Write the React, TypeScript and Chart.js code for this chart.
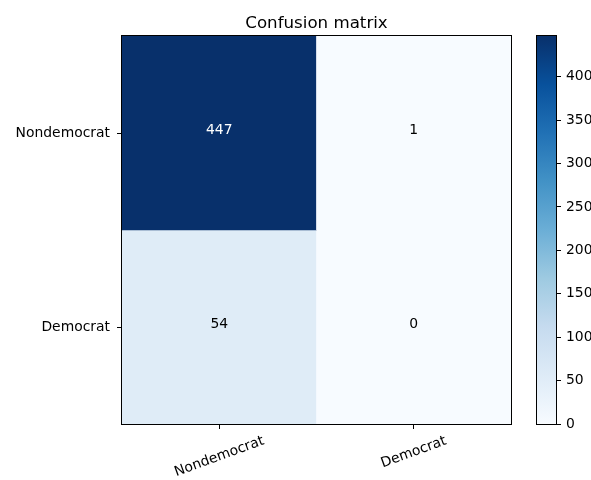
import React, { useEffect, useRef } from "react";
import { Chart, registerables } from "chart.js";

Chart.register(...registerables);

// Confusion matrix data: rows are the true class, columns the predicted class.
const title = "Confusion matrix";
const predictedLabels = ["Nondemocrat", "Democrat"];
const trueLabels = ["Nondemocrat", "Democrat"];
const rowNondemocrat = [447, 1];
const rowDemocrat = [54, 0];
const colorbarTicks = [0, 50, 100, 150, 200, 250, 300, 350, 400];

const rows = [rowNondemocrat, rowDemocrat];
const vmin = 0;
const vmax = Math.max(...rows.flat());

const FONT = "'DejaVu Sans', sans-serif";
const TICK_SIZE = 13.9;
const TITLE_SIZE = 16.67;

// "Blues" sequential colour map
const BLUES: number[][] = [
  [247, 251, 255],
  [222, 235, 247],
  [198, 219, 239],
  [158, 202, 225],
  [107, 174, 214],
  [66, 146, 198],
  [33, 113, 181],
  [8, 81, 156],
  [8, 48, 107],
];

function blues(t: number): string {
  const c = Math.max(0, Math.min(1, t));
  const p = c * (BLUES.length - 1);
  const i = Math.min(BLUES.length - 2, Math.floor(p));
  const f = p - i;
  const a = BLUES[i];
  const b = BLUES[i + 1];
  const mix = (k: number) => Math.round(a[k] + (b[k] - a[k]) * f);
  return `rgb(${mix(0)}, ${mix(1)}, ${mix(2)})`;
}

// Black frame round the plotting area
const framePlugin = {
  id: "frame",
  afterDraw(chart: any) {
    const { ctx, chartArea } = chart;
    ctx.save();
    ctx.strokeStyle = "#000";
    ctx.lineWidth = 1;
    ctx.strokeRect(
      Math.round(chartArea.left) - 0.5,
      Math.round(chartArea.top) - 0.5,
      Math.round(chartArea.right - chartArea.left) + 1,
      Math.round(chartArea.bottom - chartArea.top) + 1
    );
    ctx.restore();
  },
};

// Title centred over the matrix itself
const titlePlugin = {
  id: "matrixTitle",
  afterDraw(chart: any) {
    const { ctx, chartArea } = chart;
    ctx.save();
    ctx.font = `${TITLE_SIZE}px ${FONT}`;
    ctx.fillStyle = "#000";
    ctx.textAlign = "center";
    ctx.textBaseline = "alphabetic";
    ctx.fillText(title, (chartArea.left + chartArea.right) / 2, chartArea.top - 8.5);
    ctx.restore();
  },
};

// Count written in the middle of each cell
const cellTextPlugin = {
  id: "cellText",
  afterDatasetsDraw(chart: any) {
    const { ctx } = chart;
    ctx.save();
    ctx.font = `${TICK_SIZE}px ${FONT}`;
    ctx.textAlign = "center";
    ctx.textBaseline = "middle";
    chart.data.datasets.forEach((ds: any, di: number) => {
      const meta = chart.getDatasetMeta(di);
      meta.data.forEach((el: any, i: number) => {
        const v = ds.counts[i];
        ctx.fillStyle = v > (vmax + vmin) / 2 ? "#ffffff" : "#000000";
        ctx.fillText(String(v), el.x, (el.y + el.base) / 2 - 2.5);
      });
    });
    ctx.restore();
  },
};

// Predicted-class labels, rotated 20 degrees and centred under their ticks
const xLabelPlugin = {
  id: "xLabels",
  afterDraw(chart: any) {
    const { ctx } = chart;
    const scale = chart.scales.x;
    const angle = (20 * Math.PI) / 180;
    ctx.save();
    ctx.font = `${TICK_SIZE}px ${FONT}`;
    ctx.fillStyle = "#000";
    ctx.textAlign = "center";
    ctx.textBaseline = "middle";
    predictedLabels.forEach((label, i) => {
      const w = ctx.measureText(label).width;
      const h = TICK_SIZE;
      const extent = w * Math.sin(angle) + h * Math.cos(angle);
      const x = scale.getPixelForTick(i);
      const y = chart.chartArea.bottom + 10 + extent / 2;
      ctx.save();
      ctx.translate(x, y);
      ctx.rotate(-angle);
      ctx.fillText(label, 0, 0);
      ctx.restore();
    });
    ctx.restore();
  },
};

function MatrixChart() {
  const ref = useRef<HTMLCanvasElement>(null);
  useEffect(() => {
    if (!ref.current) return;
    const chart = new Chart(ref.current, {
      type: "bar",
      data: {
        labels: predictedLabels,
        datasets: rows.map((row, r) => ({
          label: trueLabels[r],
          data: row.map(() => [r, r + 1]),
          counts: row,
          backgroundColor: row.map((v) => blues((v - vmin) / (vmax - vmin))),
          borderWidth: 0,
          barPercentage: 1,
          categoryPercentage: 1,
          grouped: false,
        })) as any,
      },
      options: {
        animation: false,
        responsive: false,
        maintainAspectRatio: false,
        layout: { padding: { left: 0, right: 80, top: 36, bottom: 0 } },
        plugins: {
          legend: { display: false },
          tooltip: { enabled: false },
          title: { display: false },
        },
        scales: {
          x: {
            type: "category",
            offset: true,
            grid: {
              offset: false,
              drawOnChartArea: false,
              drawTicks: true,
              tickLength: 5,
              color: "#000",
            },
            border: { display: true, color: "#000", width: 1 },
            ticks: { display: false },
            afterFit(scale: any) {
              scale.height = 56;
            },
          },
          y: {
            type: "linear",
            min: 0,
            max: trueLabels.length,
            reverse: true,
            afterBuildTicks(scale: any) {
              scale.ticks = trueLabels.map((_, i) => ({ value: i + 0.5 }));
            },
            grid: {
              drawOnChartArea: false,
              drawTicks: true,
              tickLength: 5,
              color: "#000",
            },
            border: { display: true, color: "#000", width: 1 },
            ticks: {
              color: "#000",
              padding: 7,
              font: { family: FONT, size: TICK_SIZE },
              callback: (v: any) => trueLabels[Math.floor(Number(v))],
            },
            afterFit(scale: any) {
              scale.width = 122;
            },
          },
        },
      },
      plugins: [cellTextPlugin, framePlugin, xLabelPlugin, titlePlugin],
    });
    return () => chart.destroy();
  }, []);
  return (
    <canvas
      ref={ref}
      width={591}
      height={480}
      style={{ position: "absolute", left: 0, top: 0, width: 591, height: 480 }}
    />
  );
}

function ColorbarChart() {
  const ref = useRef<HTMLCanvasElement>(null);
  useEffect(() => {
    if (!ref.current) return;
    const chart = new Chart(ref.current, {
      type: "bar",
      data: {
        labels: [""],
        datasets: [
          {
            data: [[vmin, vmax]],
            borderWidth: 0,
            barPercentage: 1,
            categoryPercentage: 1,
            backgroundColor: (c: any) => {
              const area = c.chart.chartArea;
              if (!area) return blues(0.5);
              const g = c.chart.ctx.createLinearGradient(0, area.bottom, 0, area.top);
              BLUES.forEach((_, i) => {
                const t = i / (BLUES.length - 1);
                g.addColorStop(t, blues(t));
              });
              return g;
            },
          },
        ] as any,
      },
      options: {
        animation: false,
        responsive: false,
        maintainAspectRatio: false,
        layout: { padding: { left: 17, right: 0, top: 36, bottom: 56 } },
        plugins: {
          legend: { display: false },
          tooltip: { enabled: false },
          title: { display: false },
        },
        scales: {
          x: { type: "category", display: false },
          y: {
            type: "linear",
            position: "right",
            min: vmin,
            max: vmax,
            afterBuildTicks(scale: any) {
              scale.ticks = colorbarTicks.map((v) => ({ value: v }));
            },
            grid: {
              drawOnChartArea: false,
              drawTicks: true,
              tickLength: 5,
              color: "#000",
            },
            border: { display: true, color: "#000", width: 1 },
            ticks: {
              color: "#000",
              padding: 5,
              font: { family: FONT, size: TICK_SIZE },
            },
            afterFit(scale: any) {
              scale.width = 35;
            },
          },
        },
      },
      plugins: [framePlugin],
    });
    return () => chart.destroy();
  }, []);
  return (
    <canvas
      ref={ref}
      width={71}
      height={480}
      style={{ position: "absolute", left: 520, top: 0, width: 71, height: 480 }}
    />
  );
}

export default function App() {
  return (
    <div
      style={{
        position: "fixed",
        left: 0,
        top: 0,
        width: 591,
        height: 480,
        background: "#fff",
        overflow: "hidden",
      }}
    >
      <MatrixChart />
      <ColorbarChart />
    </div>
  );
}
